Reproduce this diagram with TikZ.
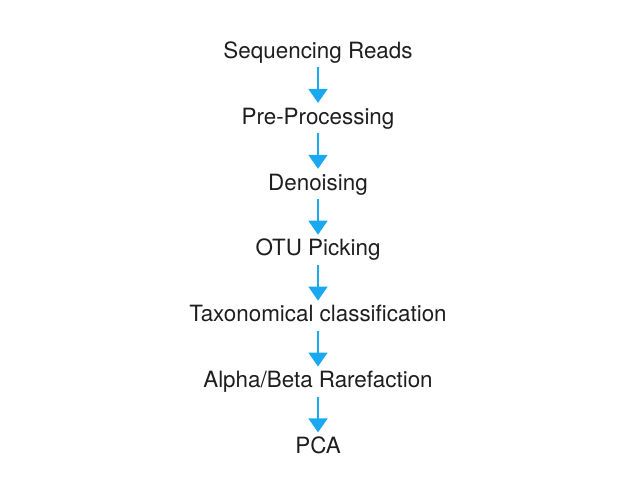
\documentclass[tikz,border=0pt]{standalone}
\usepackage{fontspec}
\setmainfont{TeX Gyre Heros}
\usepackage{xcolor}
\usetikzlibrary{arrows.meta,positioning}
\definecolor{flowblue}{RGB}{26,168,240}
\definecolor{flowtext}{RGB}{30,30,30}

\begin{document}
\begin{tikzpicture}[
  node distance=44.5pt,
  stage/.style={inner sep=0pt,text height=16pt,text depth=5pt,align=center,text=flowtext,font=\fontsize{22.4}{26}\selectfont},
  arr/.style={-{Triangle[width=19pt,length=14pt]},line width=1.8pt,flowblue,shorten <=4pt,shorten >=5pt}
]
\useasboundingbox (0,0) rectangle (638pt,-479pt);
\node[stage,anchor=north] (reads) at (318pt,-42pt) {Sequencing Reads};
\node[stage,below=of reads] (preproc) {Pre-Processing};
\node[stage,below=of preproc] (denoise) {Denoising};
\node[stage,below=of denoise] (otu) {OTU Picking};
\node[stage,below=of otu] (taxa) {Taxonomical classification};
\node[stage,below=of taxa] (rarefy) {Alpha/Beta Rarefaction};
\node[stage,below=of rarefy] (pca) {PCA};
\draw[arr] (reads)--(preproc);
\draw[arr] (preproc)--(denoise);
\draw[arr] (denoise)--(otu);
\draw[arr] (otu)--(taxa);
\draw[arr] (taxa)--(rarefy);
\draw[arr] (rarefy)--(pca);
\end{tikzpicture}
\end{document}
